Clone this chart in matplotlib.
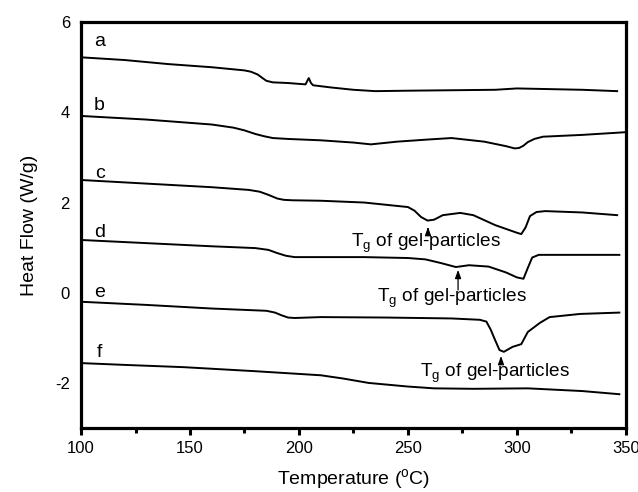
import numpy as np
import matplotlib
matplotlib.use("Agg")
import matplotlib.pyplot as plt
from matplotlib.ticker import MultipleLocator

plt.rcParams.update({"font.family": ["Liberation Sans", "DejaVu Sans"],
                     "mathtext.fontset": "custom",
                     "mathtext.rm": "Liberation Sans",
                     "mathtext.it": "Liberation Sans",
                     "axes.unicode_minus": False})

# DSC-кривые a..f: температура (°C) и тепловой поток (W/g)
T_a = [100, 120, 140, 160, 175, 178, 181, 183, 185, 188, 195, 203, 204.5, 205.5,
       206.5, 215, 225, 235, 250, 270, 290, 300, 310, 330, 346]
q_a = [5.22, 5.16, 5.07, 5.0, 4.93, 4.9, 4.84, 4.77, 4.7, 4.665, 4.65, 4.62, 4.76,
       4.65, 4.6, 4.55, 4.5, 4.47, 4.48, 4.49, 4.5, 4.53, 4.52, 4.5, 4.47]

T_b = [100, 130, 160, 170, 175, 180, 184, 188, 195, 210, 225, 233, 245, 260,
       270, 285, 295, 299, 301, 303, 305, 308, 312, 330, 350]
q_b = [3.92, 3.84, 3.73, 3.66, 3.6, 3.52, 3.47, 3.43, 3.41, 3.38, 3.33, 3.29,
       3.35, 3.4, 3.43, 3.35, 3.25, 3.2, 3.21, 3.26, 3.34, 3.41, 3.46, 3.5, 3.56]

T_c = [100, 130, 160, 177, 182, 186, 190, 193, 197, 210, 230, 250, 253, 256,
       259, 262, 266, 274, 280, 290, 300, 302, 304, 306, 309, 313, 330, 346]
q_c = [2.5, 2.42, 2.34, 2.28, 2.24, 2.17, 2.09, 2.06, 2.05, 2.04, 2.0, 1.9, 1.82,
       1.68, 1.6, 1.62, 1.72, 1.77, 1.72, 1.5, 1.33, 1.3, 1.45, 1.7, 1.79, 1.81,
       1.78, 1.72]

T_d = [100, 130, 160, 180, 186, 190, 194, 198, 210, 230, 250, 258, 265, 272,
       278, 287, 295, 300, 303, 305, 307, 310, 320, 347]
q_d = [1.17, 1.1, 1.03, 0.99, 0.95, 0.88, 0.82, 0.79, 0.79, 0.79, 0.77, 0.74,
       0.66, 0.57, 0.61, 0.58, 0.45, 0.34, 0.31, 0.55, 0.78, 0.84, 0.84, 0.84]

T_e = [100, 130, 160, 185, 189, 192, 195, 198, 210, 240, 270, 283, 286, 288,
       290, 292, 294, 298, 302, 305, 310.5, 315, 329, 347]
q_e = [-0.2, -0.27, -0.35, -0.4, -0.44, -0.5, -0.55, -0.56, -0.54, -0.55, -0.57,
       -0.6, -0.64, -0.82, -1.05, -1.27, -1.31, -1.2, -1.14, -0.87, -0.67,
       -0.54, -0.47, -0.44]

T_f = [100, 120, 147, 180, 210, 220, 232, 250, 262, 280, 305, 330, 347]
q_f = [-1.56, -1.6, -1.65, -1.74, -1.83, -1.9, -2.0, -2.08, -2.12, -2.13, -2.12,
       -2.18, -2.25]

curves = [("a", T_a, q_a, 5.56), ("b", T_b, q_b, 4.16), ("c", T_c, q_c, 2.65),
          ("d", T_d, q_d, 1.34), ("e", T_e, q_e, 0.0), ("f", T_f, q_f, -1.32)]

# подписи Tg: (x текста, y базовой линии, x стрелки, y хвоста, y острия)
tg_notes = [(224, 1.01, 259.2, 1.32, 1.52),
            (236, -0.21, 273, 0.0, 0.57),
            (255.5, -1.87, 292.7, -1.56, -1.34)]

fig = plt.figure(figsize=(6.38, 4.92), dpi=100)
ax = fig.add_axes([0.127, 0.130, 0.854, 0.825])

for name, T, q, ly in curves:
    ax.plot(T, q, color="black", lw=1.4, solid_joinstyle="round")
    ax.text(108.5, ly, name, fontsize=14, ha="center", va="center")

for tx, ty, axx, y0, y1 in tg_notes:
    ax.text(tx, ty, "T$_{\\rm g}$ of gel-particles", fontsize=13.7,
            ha="left", va="baseline")
    ax.annotate("", xy=(axx, y1), xytext=(axx, y0),
                arrowprops=dict(arrowstyle="-|>,head_length=0.5,head_width=0.18",
                                color="black", lw=0.9))

ax.set_xlim(100, 350)
ax.set_ylim(-3, 6)
ax.xaxis.set_major_locator(MultipleLocator(50))
ax.xaxis.set_minor_locator(MultipleLocator(25))
ax.yaxis.set_major_locator(MultipleLocator(2))
ax.tick_params(axis="x", which="major", direction="out", length=5, width=2.2,
               labelsize=12, pad=4)
ax.tick_params(axis="x", which="minor", direction="out", length=3.5, width=2.2)
ax.tick_params(axis="y", length=0, labelsize=12, pad=8)
for s in ax.spines.values():
    s.set_linewidth(2.3)

ax.set_xlabel("Temperature ($^{\\rm o}$C)", fontsize=14, labelpad=8)
ax.set_ylabel("Heat Flow (W/g)", fontsize=14, labelpad=12)

fig.savefig("out.png", dpi=100)
plt.close(fig)
